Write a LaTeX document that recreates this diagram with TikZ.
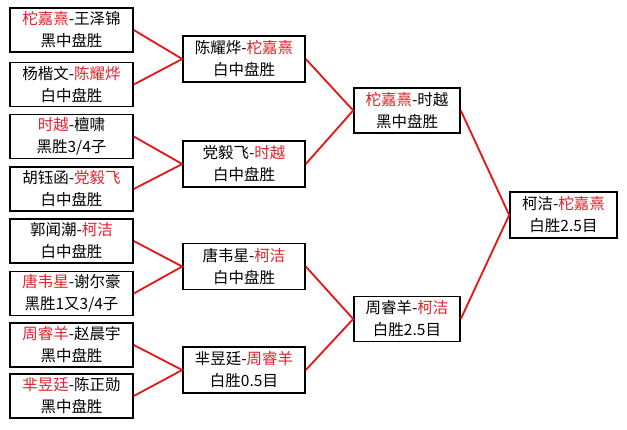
\documentclass[tikz,border=0pt]{standalone}
\usepackage{fontspec}
\setmainfont{Noto Sans CJK SC}
\usepackage{xcolor}
\usepackage{tikz}
\definecolor{winred}{RGB}{225,35,45}
\definecolor{linered}{RGB}{230,20,20}
\newcommand{\rd}[1]{\textcolor{winred}{#1}}

\begin{document}
\begin{tikzpicture}[x=1pt,y=-1pt,
  game/.style={rectangle,draw,line width=1.6pt,minimum width=123pt,minimum height=44pt,
    align=center,inner sep=0pt,font=\fontsize{15.5}{22}\selectfont},
  link/.style={draw=linered,line width=1.8pt}]
\fill[white] (0,0) rectangle (627,429);
\useasboundingbox (0,0) rectangle (627,429);

% first round
\node[game] (ra) at (71.5,30) {\rd{柁嘉熹}-王泽锦\\黑中盘胜};
\node[game] (rb) at (71.5,84.5) {杨楷文-\rd{陈耀烨}\\白中盘胜};
\node[game] (rc) at (71.5,136.5) {\rd{时越}-檀啸\\黑胜3/4子};
\node[game] (rd) at (71.5,189) {胡钰函-\rd{党毅飞}\\白中盘胜};
\node[game] (re) at (71.5,241) {郭闻潮-\rd{柯洁}\\白中盘胜};
\node[game] (rf) at (71.5,293.5) {\rd{唐韦星}-谢尔豪\\黑胜1又3/4子};
\node[game] (rg) at (71.5,345) {\rd{周睿羊}-赵晨宇\\黑中盘胜};
\node[game] (rh) at (71.5,396) {\rd{芈昱廷}-陈正勋\\黑中盘胜};

% second round
\node[game,minimum width=122pt,minimum height=46pt] (sa) at (244,59) {陈耀烨-\rd{柁嘉熹}\\白中盘胜};
\node[game,minimum width=122pt,minimum height=46pt] (sb) at (244,164) {党毅飞-\rd{时越}\\白中盘胜};
\node[game,minimum width=122pt,minimum height=46pt] (sc) at (244,266.5) {唐韦星-\rd{柯洁}\\白中盘胜};
\node[game,minimum width=122pt,minimum height=46pt] (sd) at (244,370) {芈昱廷-\rd{周睿羊}\\白胜0.5目};

% semifinal
\node[game,minimum width=106pt,minimum height=45pt] (ta) at (407,110.5) {\rd{柁嘉熹}-时越\\黑中盘胜};
\node[game,minimum width=106pt,minimum height=45pt] (tb) at (407,319) {周睿羊-\rd{柯洁}\\白胜2.5目};

% final
\node[game,minimum width=107pt,minimum height=46pt] (fin) at (563.5,215) {柯洁-\rd{柁嘉熹}\\白胜2.5目};

\draw[link] (ra.east) -- (sa.west) -- (rb.east);
\draw[link] (rc.east) -- (sb.west) -- (rd.east);
\draw[link] (re.east) -- (sc.west) -- (rf.east);
\draw[link] (rg.east) -- (sd.west) -- (rh.east);
\draw[link] (sa.east) -- (ta.west) -- (sb.east);
\draw[link] (sc.east) -- (tb.west) -- (sd.east);
\draw[link] (ta.east) -- (fin.west) -- (tb.east);
\end{tikzpicture}
\end{document}
